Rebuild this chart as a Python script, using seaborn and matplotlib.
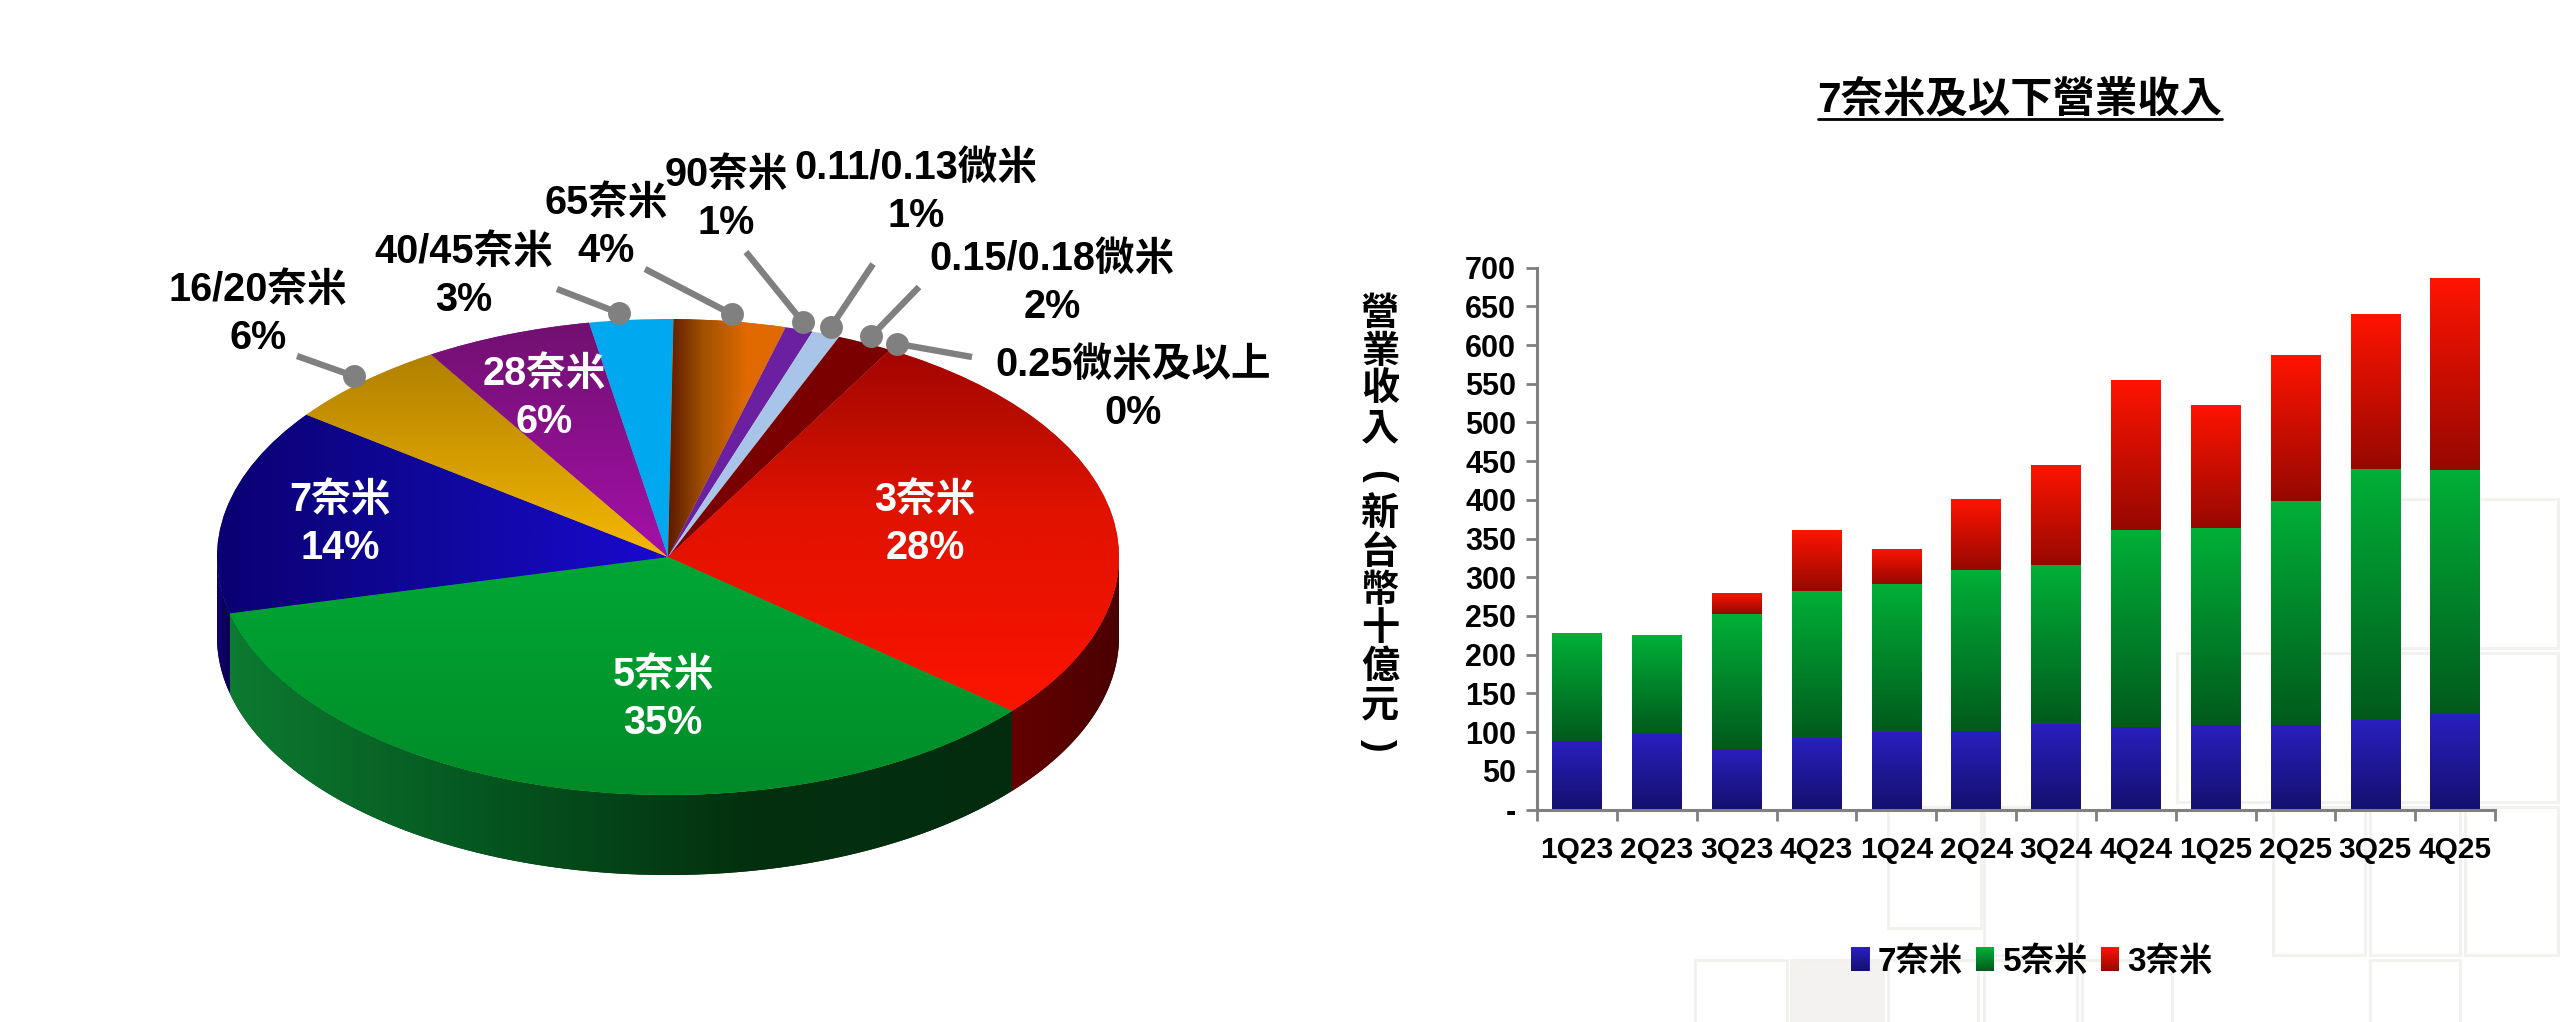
import numpy as np
import pandas as pd
import seaborn as sns
import matplotlib
matplotlib.use("Agg")
import matplotlib.pyplot as plt
from matplotlib.colors import LinearSegmentedColormap
from matplotlib.patches import Rectangle, PathPatch, Patch
from matplotlib.path import Path
from matplotlib.lines import Line2D

# ---- data ----
node_labels = ["3奈米", "5奈米", "7奈米", "16/20奈米", "28奈米", "40/45奈米", "65奈米", "90奈米",
               "0.11/0.13微米", "0.15/0.18微米", "0.25微米及以上"]
node_shares = [28, 35, 14, 6, 6, 3, 4, 1, 1, 2, 0]
quarters = ["1Q23", "2Q23", "3Q23", "4Q23", "1Q24", "2Q24", "3Q24", "4Q24", "1Q25", "2Q25", "3Q25", "4Q25"]
rev_7nm = [88, 98, 78.5, 92, 100, 102, 110.5, 106, 109, 109, 116, 123]
rev_5nm = [139.5, 128, 173.5, 190, 191.5, 208, 205, 255, 254, 290, 324, 315]
rev_3nm = [0, 0, 28, 79, 45.5, 91, 130, 194, 160, 188, 200, 248]

W, H = 2560, 1022
sns.set_theme(style="white")
plt.rcParams["font.family"] = ["Liberation Sans", "Noto Sans CJK TC", "DejaVu Sans"]
plt.rcParams["font.weight"] = "bold"
fig = plt.figure(figsize=(W / 100, H / 100), dpi=100, facecolor="white")


def axes_px(x0, y0, x1, y1):
    return fig.add_axes([x0 / W, 1 - y1 / H, (x1 - x0) / W, (y1 - y0) / H])


def fx(x):
    return x / W


def fy(y):
    return 1 - y / H


def gradient(ax, extent, colors, clip, vertical=True, zorder=2):
    cmap = LinearSegmentedColormap.from_list("g", colors)
    ramp = np.linspace(0, 1, 256)
    arr = ramp[:, None] if vertical else ramp[None, :]
    im = ax.imshow(arr, extent=extent, origin="upper", cmap=cmap, aspect="auto",
                   interpolation="bilinear", zorder=zorder, vmin=0, vmax=1)
    im.set_clip_path(clip)
    return im


# ---- faint background squares ----
squares = [(1695, 960, 1787, 1030, None), (1791, 960, 1883, 1030, "#f3f2f0"), (1888, 960, 1978, 1030, None),
           (1984, 960, 2077, 1030, None), (2082, 960, 2172, 1030, None), (2370, 960, 2460, 1030, None),
           (1888, 807, 1981, 928, None), (1984, 807, 2077, 955, None), (2273, 807, 2365, 955, None),
           (2370, 807, 2460, 955, None), (2465, 807, 2558, 955, None),
           (2177, 653, 2558, 802, None), (2369, 499, 2558, 648, None)]
for x0, y0, x1, y1, fc in squares:
    fig.add_artist(Rectangle((fx(x0), fy(y1)), (x1 - x0) / W, (y1 - y0) / H, transform=fig.transFigure,
                             facecolor=fc or "none", edgecolor="#f2f1ee", lw=2, zorder=-5))

# ---- pie ----
ax_p = axes_px(668 - 1.2 * 451, 557 - 1.2 * 238, 668 + 1.2 * 451, 557 + 1.7 * 238)
base = ["#e01000", "#00a030", "#14089c", "#d89800", "#8a1090", "#00a8f0", "#d06000", "#6a20a0", "#a8c4e8",
        "#7a0000", "#a00000"]
wedges, _ = ax_p.pie(node_shares, colors=base, startangle=60.5, counterclock=False, radius=1,
                     wedgeprops={"linewidth": 0})
ax_p.set_aspect("auto")
ax_p.set_xlim(-1.2, 1.2)
ax_p.set_ylim(-1.7, 1.2)
ax_p.patch.set_alpha(0)

depth = 80 / 238
side_colors = {0: ["#650000", "#4a0000"], 1: ["#0c7a30", "#05551f", "#03300f", "#042c10"], 2: ["#100070", "#0a0050"]}
for idx, cols in side_colors.items():
    w = wedges[idx]
    t0, t1 = sorted((w.theta1, w.theta2))
    th = np.radians(np.linspace(t0, t1, 400))
    th = th[np.sin(th) <= 0.0005]
    xs, ys = np.cos(th), np.sin(th)
    verts = np.r_[np.c_[xs, ys], np.c_[xs[::-1], ys[::-1] - depth], [[xs[0], ys[0]]]]
    path = Path(verts, closed=False)
    patch = PathPatch(path, facecolor=cols[-1], lw=0, zorder=0.5)
    ax_p.add_patch(patch)
    gradient(ax_p, (xs.min(), xs.max(), -1 - depth, 0.2), cols, patch, vertical=False, zorder=0.6)

# top-face shading: (colours, vertical, extent)
shades = {
    0: ([(0, "#a00400"), (0.185, "#b80c00"), (0.43, "#e01200"), (0.74, "#f01200"), (1, "#ff1600")], True,
        (-0.1, 1.02, -0.72, 0.9)),
    1: (["#00a838", "#009a2e", "#008a28"], True, (-1.02, 0.8, -1.02, 0.05)),
    2: (["#0a0070", "#10089c", "#1a08d0"], False, (-1.02, 0.0, -0.4, 0.85)),
    3: (["#b08000", "#f5b800"], True, (-0.85, 0.0, -0.0, 0.85)),
    4: (["#701070", "#a410a8"], True, (-0.55, 0.0, -0.0, 1.0)),
    6: (["#4a0c00", "#a05000", "#e06a00", "#e06a00"], False, (-0.02, 0.27, 0, 1.02)),
}
for idx, (cols, vert, ext) in shades.items():
    gradient(ax_p, ext, cols, wedges[idx], vertical=vert)

GRAY = "#808080"
# leader: label end in pixels, and angular nudge of the dot from the slice's middle
leaders = {3: (297, 356, 0), 5: (557, 289, -1.3), 6: (645, 269, 0), 7: (746, 252, 0),
           8: (873, 264, 0), 9: (919, 287, 0), 10: (972, 357, 0)}
for idx, (lx, ly, nudge) in leaders.items():
    w = wedges[idx]
    mid = np.radians((w.theta1 + w.theta2) / 2 - nudge)
    px = 668 + 1.03 * np.cos(mid) * 451
    py = 557 - 1.03 * np.sin(mid) * 238
    fig.add_artist(Line2D([fx(lx), fx(px)], [fy(ly), fy(py)], color=GRAY, lw=4.6, zorder=5, solid_capstyle="butt"))
    fig.add_artist(Line2D([fx(px)], [fy(py)], marker="o", ms=16.5, color=GRAY, mew=0, zorder=5))

pct = ["%d%%" % v for v in node_shares]
label_pos = {0: (925, 524, "white"), 1: (663, 699, "white"), 2: (340, 524, "white"), 4: (544, 398, "white"),
             3: (258, 314, "black"), 5: (464, 276, "black"), 6: (606, 227, "black"), 7: (726, 199, "black"),
             8: (916, 192, "black"), 9: (1052, 283, "black"), 10: (1133, 389, "black")}
for idx, (x, y, c) in label_pos.items():
    fig.text(fx(x), fy(y), node_labels[idx] + "\n" + pct[idx], ha="center", va="center", color=c,
             fontsize=28.5, fontweight="bold", linespacing=1.32, zorder=6, multialignment="center")

# ---- stacked bars ----
ax = axes_px(1537, 267.6, 2495, 809.5)
ax.patch.set_alpha(0)
df = pd.DataFrame({"q": quarters, "n7": rev_7nm, "n5": rev_5nm, "n3": rev_3nm})
layers = [("n7", np.zeros(12), ["#2a1fc0", "#14106e"], "#2018a0"),
          ("n5", df["n7"].to_numpy(), ["#00b038", "#005a1c"], "#00a030"),
          ("n3", (df["n7"] + df["n5"]).to_numpy(), ["#ff1400", "#960800"], "#f01000")]
for col, bottom, grad, solid in layers:
    before = len(ax.patches)
    sns.barplot(data=df, x="q", y=col, bottom=bottom, color=solid, width=0.62, saturation=1, ax=ax, zorder=2)
    for bar in ax.patches[before:]:
        if bar.get_height() <= 0:
            continue
        bar.set_edgecolor("none")
        x0 = bar.get_x()
        gradient(ax, (x0, x0 + bar.get_width(), bar.get_y(), bar.get_y() + bar.get_height()), grad, bar, zorder=3)
ax.set_xlim(-0.5, 11.5)
ax.set_ylim(0, 700)
ax.set_xlabel("")
ax.set_ylabel("")
sns.despine(ax=ax)
for s in ("left", "bottom"):
    ax.spines[s].set_color(GRAY)
    ax.spines[s].set_linewidth(2.2)
yt = np.arange(0, 701, 50)
ax.set_yticks(yt)
ax.set_yticklabels(["-" if v == 0 else str(v) for v in yt], fontsize=22, fontweight="bold", color="black")
ax.tick_params(axis="y", which="major", left=True, length=8, width=2, color=GRAY, pad=7)
ax.set_xticks(range(12))
ax.set_xticklabels(quarters, fontsize=21.5, fontweight="bold", color="black")
ax.set_xticks(np.arange(-0.5, 12), minor=True)
ax.tick_params(axis="x", which="major", bottom=False, length=0, pad=19)
ax.tick_params(axis="x", which="minor", bottom=True, length=8, width=2, color=GRAY)

# title with underline
fig.text(fx(2020), fy(101), "7奈米及以下營業收入", ha="center", va="center", fontsize=30.5, fontweight="bold", color="black")
fig.add_artist(Line2D([fx(1818), fx(2222)], [fy(119), fy(119)], color="black", lw=2))

# stacked y label
ylab_kw = dict(ha="center", va="center", fontsize=27.5, fontweight="bold", color="black", linespacing=1.08)
fig.text(fx(1380), fy(372), "\n".join("營業收入"), **ylab_kw)
fig.text(fx(1378), fy(476), "(", rotation=-90, **ylab_kw)
fig.text(fx(1380), fy(611), "\n".join("新台幣十億元"), **ylab_kw)
fig.text(fx(1378), fy(745), ")", rotation=-90, **ylab_kw)

# legend
swatch_colors = [["#2a1fc0", "#14106e"], ["#00b038", "#005a1c"], ["#ff1400", "#960800"]]
handles = [Patch(facecolor=c[0], edgecolor="none") for c in swatch_colors]
leg = fig.legend(handles, ["7奈米", "5奈米", "3奈米"], ncols=3, loc="center", bbox_to_anchor=(fx(2032), fy(962)),
                 frameon=False, prop={"size": 24, "weight": "bold"}, handlelength=0.55, handleheight=0.75,
                 handletextpad=0.25, columnspacing=0.38, borderpad=0, labelcolor="black")
fig.canvas.draw()
for h, cols in zip(leg.legend_handles, swatch_colors):
    bb = h.get_window_extent()
    cmap = LinearSegmentedColormap.from_list("s", cols)
    rows = max(int(round(bb.height)), 2)
    arr = cmap(np.linspace(0, 1, rows))[:, None, :]
    arr = np.repeat(arr, max(int(round(bb.width)), 2), axis=1)
    fig.figimage(arr, xo=int(round(bb.x0)), yo=int(round(bb.y0)), origin="upper", zorder=10)

fig.savefig("out.png", dpi=100, facecolor="white")
